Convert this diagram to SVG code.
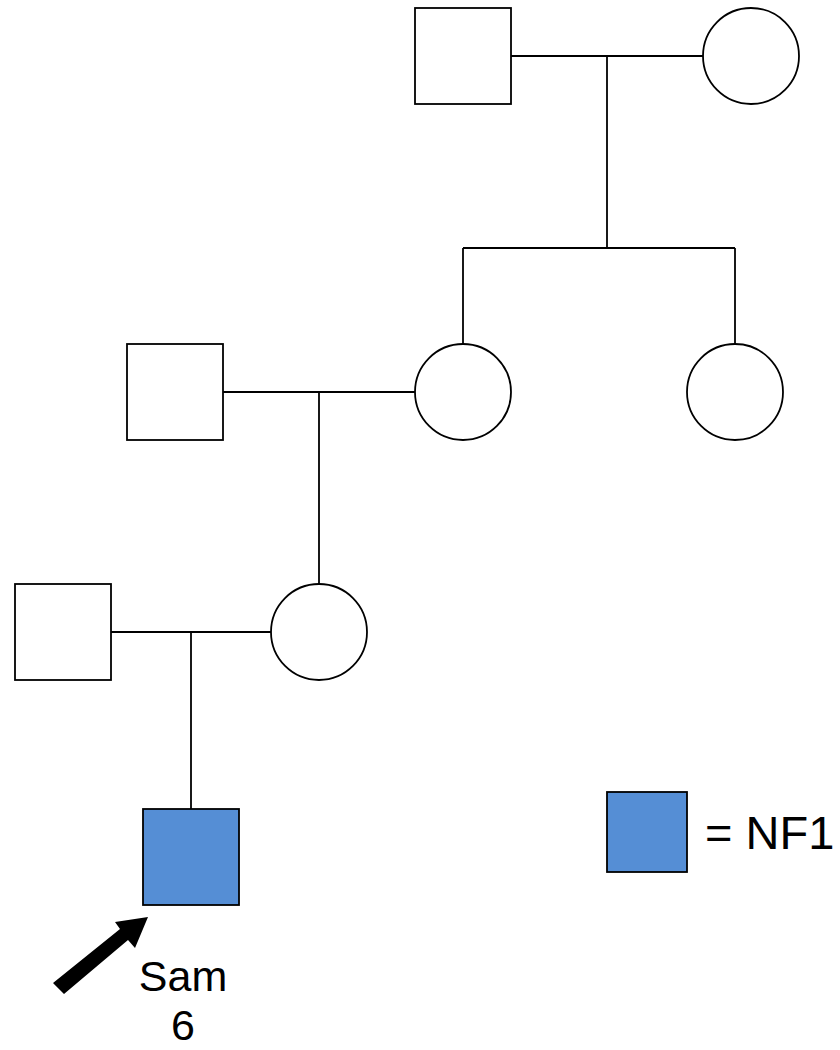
<svg xmlns="http://www.w3.org/2000/svg" width="840" height="1050" viewBox="0 0 840 1050">
  <style>
    .shape { fill: #ffffff; stroke: #000000; stroke-width: 1.8; }
    .affected { fill: #558ED5; stroke: #000000; stroke-width: 1.8; }
    .line { stroke: #000000; stroke-width: 1.8; fill: none; stroke-linecap: butt; }
    .label { font-family: "Liberation Sans", Arial, sans-serif; font-size: 47px; fill: #000000; }
    .name { font-family: "Liberation Sans", Arial, sans-serif; font-size: 43px; fill: #000000; }
  </style>
  <rect width="840" height="1050" fill="#ffffff"/>
  <g id="connectors">
    <line class="line" x1="511" y1="56" x2="703" y2="56"/>
    <line class="line" x1="607" y1="56" x2="607" y2="248"/>
    <line class="line" x1="463" y1="248" x2="735" y2="248"/>
    <line class="line" x1="463" y1="248" x2="463" y2="344"/>
    <line class="line" x1="735" y1="248" x2="735" y2="344"/>
    <line class="line" x1="223" y1="392" x2="415" y2="392"/>
    <line class="line" x1="319" y1="392" x2="319" y2="584"/>
    <line class="line" x1="111" y1="632" x2="271" y2="632"/>
    <line class="line" x1="191" y1="632" x2="191" y2="809"/>
  </g>
  <g id="gp-male"><rect class="shape" x="415" y="8" width="96" height="96"/></g>
  <g id="gp-female"><circle class="shape" cx="751" cy="56" r="48"/></g>
  <g id="mother-grandmother"><circle class="shape" cx="463" cy="392" r="48"/></g>
  <g id="aunt"><circle class="shape" cx="735" cy="392" r="48"/></g>
  <g id="grandfather"><rect class="shape" x="127" y="344" width="96" height="96"/></g>
  <g id="mother"><circle class="shape" cx="319" cy="632" r="48"/></g>
  <g id="father"><rect class="shape" x="15" y="584" width="96" height="96"/></g>
  <g id="sam">
    <rect class="affected" x="143" y="809" width="96" height="96"/>
    <polygon points="53,983 120,929 115,922 148,917 135,948 128,940 64,994" fill="#000000"/>
    <text class="name" x="183" y="991" text-anchor="middle">Sam</text>
    <text class="name" x="183" y="1040" text-anchor="middle">6</text>
  </g>
  <g id="legend">
    <rect class="affected" x="607" y="792" width="80" height="80"/>
    <text class="label" x="705" y="849">= NF1</text>
  </g>
</svg>
